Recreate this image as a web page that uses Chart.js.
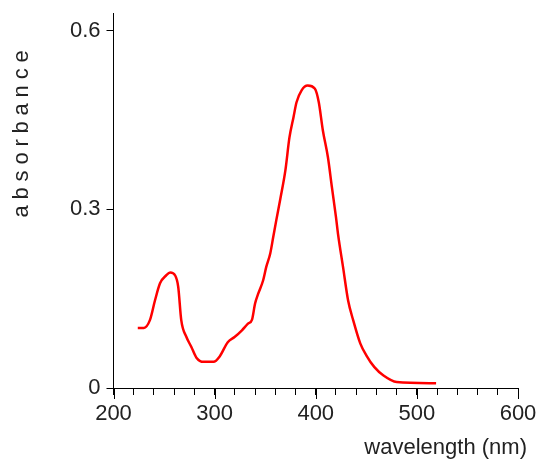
<!DOCTYPE html>
<html>
<head>
<meta charset="utf-8">
<script src="https://cdn.jsdelivr.net/npm/chart.js@4"></script>
<style>
  html, body { margin: 0; padding: 0; background: #fff; }
  #wrap { width: 554px; height: 461px; }
</style>
</head>
<body>
<div id="wrap"><canvas id="spectrum" width="554" height="461"></canvas></div>
<script>
// Absorption spectrum
const wavelengths = [224, 230, 236, 241, 246, 252, 256, 261, 264, 267, 272, 277, 282, 289, 299,
  305, 313, 320, 327, 333, 337, 340, 343, 348, 351, 355, 358, 361, 365, 370, 374, 378, 381,
  386, 392, 399, 403, 407, 412, 416, 420, 422, 427, 432, 437, 444, 450, 458, 467, 480, 519];
const absorbance = [0.101, 0.101, 0.114, 0.147, 0.176, 0.189, 0.194, 0.189, 0.170, 0.114, 0.086,
  0.069, 0.051, 0.044, 0.044, 0.053, 0.077, 0.086, 0.097, 0.108, 0.115, 0.142, 0.158, 0.181,
  0.203, 0.226, 0.254, 0.282, 0.318, 0.366, 0.421, 0.455, 0.480, 0.500, 0.508, 0.503, 0.480,
  0.433, 0.388, 0.337, 0.287, 0.259, 0.203, 0.147, 0.114, 0.075, 0.055, 0.035, 0.021, 0.010, 0.008];

const xTicks = [200, 300, 400, 500, 600];
const yTicks = [0, 0.3, 0.6];
const xTitle = "wavelength (nm)";
const yTitle = "absorbance";

const FONT = "'Liberation Sans', Arial, sans-serif";
const TEXT = "#222";

// longer marks on the labelled x ticks + the two axis titles
const axisExtras = {
  id: "axisExtras",
  afterDraw(chart) {
    const ctx = chart.ctx;
    const area = chart.chartArea;
    const x = chart.scales.x;
    ctx.save();
    ctx.strokeStyle = "#000";
    ctx.lineWidth = 1;
    xTicks.forEach(v => {
      const px = Math.round(x.getPixelForValue(v)) + 0.5;
      ctx.beginPath();
      ctx.moveTo(px, area.bottom);
      ctx.lineTo(px, area.bottom + 11);
      ctx.stroke();
    });

    ctx.fillStyle = TEXT;
    ctx.font = "22px " + FONT;
    ctx.textBaseline = "alphabetic";
    ctx.textAlign = "right";
    ctx.fillText(xTitle, area.right + 9, 454);

    ctx.translate(28, 131);
    ctx.rotate(-Math.PI / 2);
    ctx.letterSpacing = "5.8px";
    ctx.textAlign = "center";
    ctx.fillText(yTitle, 0, 0);
    ctx.restore();
  }
};

new Chart(document.getElementById("spectrum"), {
  type: "line",
  data: {
    datasets: [{
      data: wavelengths.map((w, i) => ({ x: w, y: absorbance[i] })),
      borderColor: "#ff0000",
      borderWidth: 2.5,
      pointRadius: 0,
      fill: false,
      cubicInterpolationMode: "monotone"
    }]
  },
  options: {
    responsive: false,
    animation: false,
    layout: { padding: { left: 0, right: 36, top: 13, bottom: 0 } },
    plugins: { legend: { display: false }, tooltip: { enabled: false } },
    scales: {
      x: {
        type: "linear",
        min: 200,
        max: 600,
        afterFit: s => { s.height = 73; },
        grid: { drawOnChartArea: false, tickLength: 7, color: "#000" },
        border: { color: "#000", width: 1 },
        ticks: {
          stepSize: 20,
          autoSkip: false,
          maxRotation: 0,
          padding: 6,
          color: TEXT,
          font: { family: FONT, size: 22 },
          callback: v => (xTicks.includes(v) ? String(v) : "")
        }
      },
      y: {
        min: 0,
        max: 0.63,
        afterFit: s => { s.width = 113.5; s.paddingTop = 0; s.paddingBottom = 0; },
        afterBuildTicks: s => { s.ticks = yTicks.map(v => ({ value: v })); },
        grid: { drawOnChartArea: false, tickLength: 7, color: "#000" },
        border: { color: "#000", width: 1 },
        ticks: {
          padding: 6,
          color: TEXT,
          font: { family: FONT, size: 22 },
          callback: v => String(v)
        }
      }
    }
  },
  plugins: [axisExtras]
});
</script>
</body>
</html>
